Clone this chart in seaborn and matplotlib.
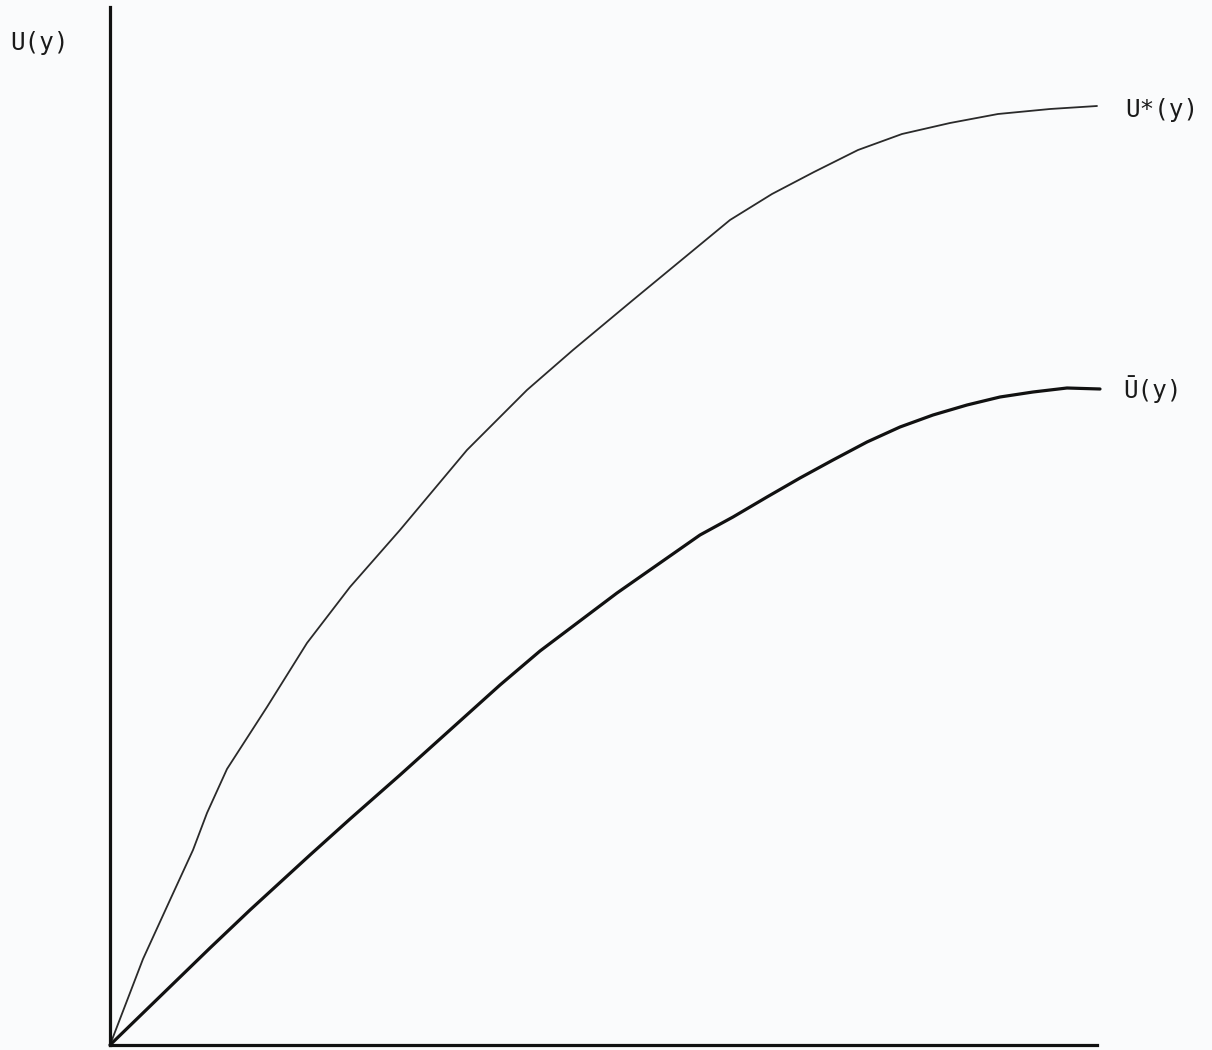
import pandas as pd
import numpy as np
import matplotlib.pyplot as plt
import seaborn as sns

# Curve values (horizontal y, vertical U), origin at the axes corner
ustar_y = [0, 33, 60, 83, 97, 117, 157, 197, 240, 290, 357, 417, 463, 523,
           580, 620, 662, 704, 748, 792, 840, 888, 940, 987]
ustar_u = [0, 86, 145, 195, 232, 276, 338, 402, 458, 515, 595, 655, 695, 745,
           792, 825, 851, 873, 895, 911, 922, 931, 936, 939]

ubar_y = [0, 100, 140, 200, 240, 290, 390, 430, 507, 590, 623, 657, 690, 723,
          757, 790, 823, 857, 890, 923, 957, 990]
ubar_u = [0, 97, 135, 190, 226, 270, 360, 394, 452, 510, 528, 548, 567, 585,
          603, 618, 630, 640, 648, 653, 657, 656]

labels = ["U*(y)", "\u016a(y)"]
axis_label = "U(y)"

sns.set_style("white")
plt.rcParams['font.family'] = ['DejaVu Sans Mono', 'DejaVu Sans']

df_star = pd.DataFrame({'y': ustar_y, 'U': ustar_u})
df_bar = pd.DataFrame({'y': ubar_y, 'U': ubar_u})

fig = plt.figure(figsize=(12.12, 10.5), dpi=100)
fig.patch.set_facecolor('#fafbfc')
ax = fig.add_axes([0, 0, 1, 1])
ax.set_facecolor('#fafbfc')

# thin upper curve, heavier lower curve
sns.lineplot(data=df_star, x='y', y='U', sort=False, estimator=None,
             color='#2a2a2a', linewidth=1.3, ax=ax)
sns.lineplot(data=df_bar, x='y', y='U', sort=False, estimator=None,
             color='#111111', linewidth=2.3, ax=ax)

ax.set_xlim(-110, 1102)
ax.set_ylim(-5, 1045)

# axes drawn as the two spines through the origin
for side in ['top', 'right']:
    ax.spines[side].set_visible(False)
ax.spines['left'].set_position(('data', 0))
ax.spines['bottom'].set_position(('data', 0))
ax.spines['left'].set_bounds(0, 1038)
ax.spines['bottom'].set_bounds(0, 987)
for side in ['left', 'bottom']:
    ax.spines[side].set_linewidth(2.3)
    ax.spines[side].set_color('#111111')
ax.set_xticks([])
ax.set_yticks([])
ax.set_xlabel('')
ax.set_ylabel('')

# curve labels at the right-hand ends
ax.text(ustar_y[-1] + 28, ustar_u[-1] - 4, labels[0], fontsize=17.5,
        va='center', ha='left', color='#1a1a1a')
ax.text(ubar_y[-1] + 23, ubar_u[-1], labels[1], fontsize=17.5,
        va='center', ha='left', color='#1a1a1a')
ax.text(-100, 1002, axis_label, fontsize=17.5, va='center', ha='left', color='#1a1a1a')

fig.savefig('out.png', dpi=100, facecolor=fig.get_facecolor())
